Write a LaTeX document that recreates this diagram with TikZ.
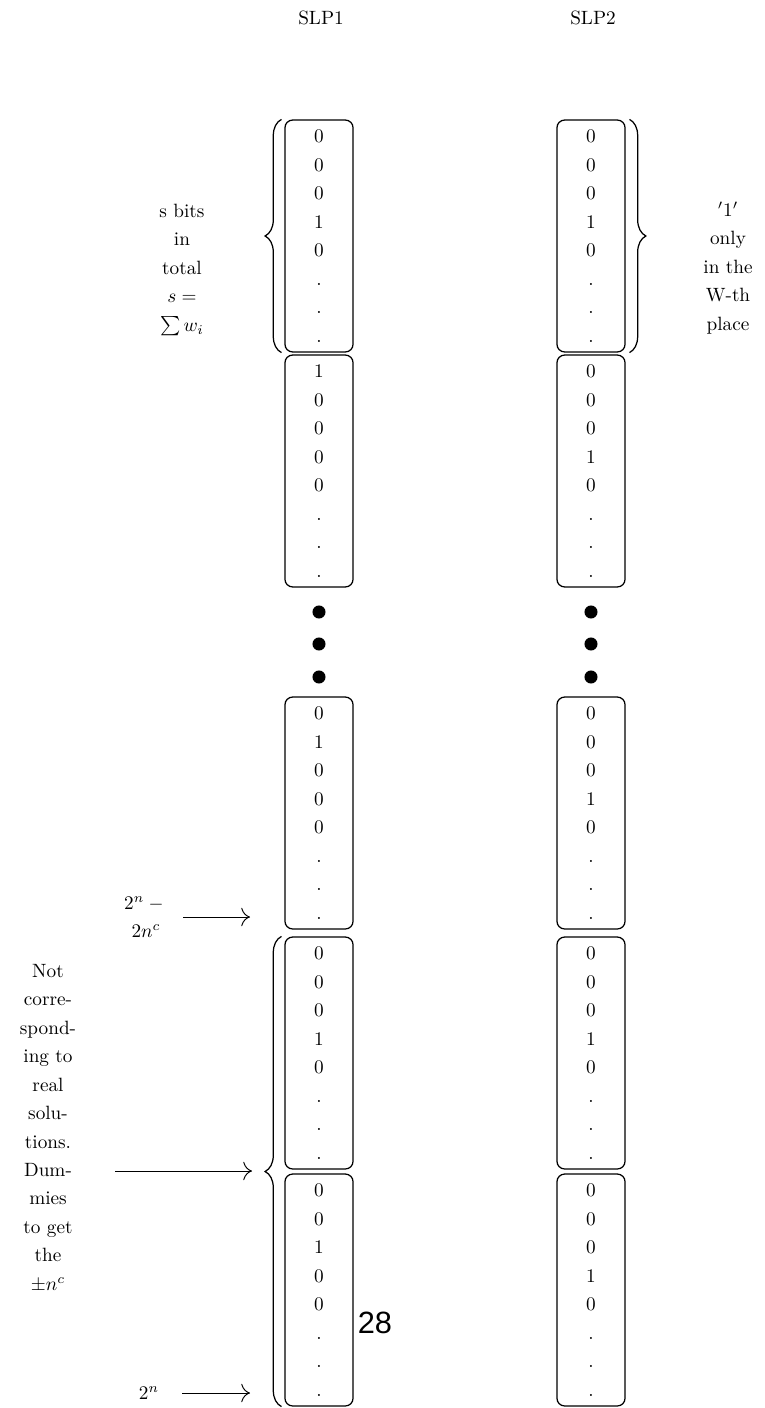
\documentclass[tikz,border=0pt]{standalone}
\usepackage{fontspec}
\usetikzlibrary{arrows.meta,decorations.pathreplacing,positioning}
\newfontfamily\pagefont{Liberation Sans}

\begin{document}
\begin{tikzpicture}[
    x=0.52pt, y=-0.52pt,
    bits/.style={draw, rounded corners=4pt, line width=0.65pt, align=center,
        minimum width=35.4pt, minimum height=120.6pt, inner sep=0pt,
        font=\fontsize{10pt}{14.8pt}\selectfont},
    note/.style={align=center, font=\fontsize{10pt}{14.8pt}\selectfont},
    bigdot/.style={circle, fill, inner sep=0pt, minimum size=6.8pt},
    brace/.style={decorate, decoration={brace, amplitude=8.5pt}, line width=0.65pt},
    pointer/.style={-{To[length=1.6mm]}, line width=0.5pt}
]

% Page frame, in pixel units.
\useasboundingbox (0,0) rectangle (764,1408);

% Column titles.
\node (slp1) at (321,18) {SLP1};
\node (slp2) at (593,18) {SLP2};

% Bit blocks of SLP1.
\foreach \i/\y/\head in {1/236/{0\\0\\0\\1}, 2/471/{1\\0\\0\\0}, 3/813/{0\\1\\0\\0},
                         4/1053/{0\\0\\0\\1}, 5/1290/{0\\0\\1\\0}}
    \node[bits] (a\i) at (319,\y) {\head\\0\\.\\.\\.};

% Bit blocks of SLP2.
\foreach \i/\y in {1/236, 2/471, 3/813, 4/1053, 5/1290}
    \node[bits] (b\i) at (591,\y) {0\\0\\0\\1\\0\\.\\.\\.};

% Gap between the second and third blocks.
\foreach \j/\y in {1/612, 2/644, 3/677} {
    \node[bigdot] (ad\j) at (319,\y) {};
    \node[bigdot] (bd\j) at (591,\y) {};
}

% Braces.
\draw[brace] ([xshift=-1.5pt]a1.south west) -- ([xshift=-1.5pt]a1.north west);
\draw[brace] ([xshift=2pt]b1.north east) -- ([xshift=2pt]b1.south east);
\draw[brace] ([xshift=-1.5pt]a5.south west) -- ([xshift=-1.5pt]a4.north west);

% Side notes.
\node[note] (sbits) at (182,270) {s bits\\in\\total\\$s=$\\$\sum w_i$};
\node[note] (onlyw) at (728,268) {$'1'$\\only\\in the\\W-th\\place};
\node[note] (dummies) at (48,1128)
    {Not\\corre-\\spond-\\ing to\\real\\solu-\\tions.\\Dum-\\mies\\to get\\the\\$\pm n^c$};

% Row markers with arrows.
\node[note] (upper) at (146,917) {$2^n -{}$\\$2n^c$};
\node (total) at (149,1393) {$2^n$};
\coordinate (upperTail) at (183,917);
\coordinate (upperTip) at (250,917);
\coordinate (dummyTail) at (115,1171);
\coordinate (dummyTip) at (252,1171);
\coordinate (totalTail) at (182,1393);
\coordinate (totalTip) at (250,1393);
\draw[pointer] (upperTail) -- (upperTip);
\draw[pointer] (dummyTail) -- (dummyTip);
\draw[pointer] (totalTail) -- (totalTip);

% Page number.
\node[font=\pagefont\fontsize{16pt}{18pt}\selectfont] (pageno) at (375,1323) {28};

\end{tikzpicture}
\end{document}
